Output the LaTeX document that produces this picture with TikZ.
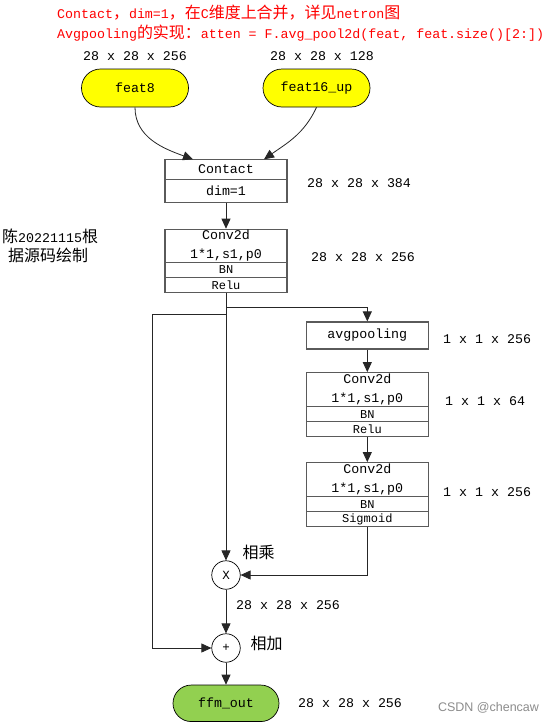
\documentclass[tikz,border=0pt]{standalone}
\usepackage{fontspec}
\setmonofont{Liberation Mono}
\newfontfamily\cjk[Scale=1.2]{Noto Sans CJK SC}
\newfontfamily\wmfont{Liberation Sans}
\usetikzlibrary{arrows.meta, shapes.misc}

\definecolor{boxgray}{RGB}{90,90,90}
\definecolor{featyellow}{RGB}{255,255,0}
\definecolor{outgreen}{RGB}{146,208,80}

\tikzset{
    txt/.style={font={\fontsize{13.3}{19}\selectfont\ttfamily}},
    layer/.style={txt, draw=boxgray, line width=1.2pt, minimum width=122pt, inner sep=0pt, align=center},
    thinrow/.style={layer, minimum height=15pt, font={\fontsize{12}{12}\selectfont\ttfamily}},
    term/.style={txt, rounded rectangle, draw=black, line width=0.7pt, inner sep=0pt},
    op/.style={circle, draw=black, line width=0.7pt, minimum size=28.5pt, inner sep=0pt, font={\fontsize{12.5}{12.5}\selectfont\ttfamily}},
    sizelbl/.style={txt, inner sep=0pt},
    note/.style={txt, inner sep=0pt, anchor=west},
    arr/.style={draw=black!85, line width=0.8pt, -{Triangle[length=10pt, width=9pt]}}
}

\begin{document}
\begin{tikzpicture}[x=1pt, y=-1pt]

    \fill[white] (0, 0) rectangle (552, 723);
    \useasboundingbox (0, 0) rectangle (552, 723);

    \node (title1) at (57, 13) [note, text=red] {Contact{\cjk ，}dim=1{\cjk ，在}C{\cjk 维度上合并，详见}netron{\cjk 图}};
    \node (title2) at (57, 33) [note, text=red] {Avgpooling{\cjk 的实现：}atten = F.avg\_pool2d(feat, feat.size()[2:])};

    \node (author1) at (2, 236) [note] {{\cjk 陈}20221115{\cjk 根}};
    \node (author2) at (8, 255) [note] {{\cjk 据源码绘制}};

    \node (feat8) at (135, 88) [term, fill=featyellow, minimum width=107pt, minimum height=38pt] {feat8};
    \node (feat16) at (316.5, 88) [term, fill=featyellow, minimum width=107pt, minimum height=38pt] {feat16\_up};
    \node (feat8-size) at (135, 56) [sizelbl] {28 x 28 x 256};
    \node (feat16-size) at (322, 56) [sizelbl] {28 x 28 x 128};

    \node (contact) at (226, 169.3) [layer, minimum height=20pt] {Contact};
    \node (dim1) at (226, 190.8) [layer, minimum height=23pt] {dim=1};
    \node (contact-size) at (307, 183) [note] {28 x 28 x 384};
    \coordinate (contact-in1) at (193, 159.3);
    \coordinate (contact-in2) at (264, 159.3);

    \node (conv1) at (226, 245.8) [layer, minimum height=33pt] {Conv2d\\1*1,s1,p0};
    \node (bn1) at (226, 270) [thinrow] {BN};
    \node (relu1) at (226, 285.2) [thinrow] {Relu};
    \node (conv1-size) at (311, 257) [note] {28 x 28 x 256};

    \node (avgpool) at (367.3, 335.5) [layer, minimum height=27pt] {avgpooling};
    \node (avgpool-size) at (443, 339) [note] {1 x 1 x 256};

    \node (conv2) at (367.3, 389.7) [layer, minimum height=34pt] {Conv2d\\1*1,s1,p0};
    \node (bn2) at (367.3, 414.2) [thinrow] {BN};
    \node (relu2) at (367.3, 429.2) [thinrow] {Relu};
    \node (conv2-size) at (445, 401) [note] {1 x 1 x 64};

    \node (conv3) at (367.3, 479.7) [layer, minimum height=34pt] {Conv2d\\1*1,s1,p0};
    \node (bn3) at (367.3, 504.2) [thinrow] {BN};
    \node (sig3) at (367.3, 519.2) [thinrow] {Sigmoid};
    \node (conv3-size) at (443, 492) [note] {1 x 1 x 256};

    \node (mul) at (226, 575) [op] {X};
    \node (mul-text) at (258.5, 552) [txt] {{\cjk 相乘}};
    \node (mul-size) at (236, 605) [note] {28 x 28 x 256};

    \node (add) at (226, 648) [op] {+};
    \node (add-text) at (266.5, 643) [txt] {{\cjk 相加}};

    \node (ffm) at (226, 703.3) [term, fill=outgreen, minimum width=106pt, minimum height=36.5pt] {ffm\_out};
    \node (ffm-size) at (298, 703) [note] {28 x 28 x 256};

    \node (mark) at (488.5, 708) [font={\fontsize{12.5}{12.5}\selectfont\wmfont}, text=black!45] {CSDN @chencaw};

    \draw[arr] (feat8.south) to[out=-90, in=160] (contact-in1);
    \draw[arr] (feat16.south) to[out=-115, in=35] (contact-in2);

    \draw[arr] (dim1.south) -- (conv1.north);

    \draw[arr] (relu1.south) -- ++(0, 14.3) -| (avgpool.north);
    \draw[arr] (avgpool.south) -- (conv2.north);
    \draw[arr] (relu2.south) -- (conv3.north);
    \draw[arr] (sig3.south) |- (mul.east);

    \draw[arr] (relu1.south) -- (mul.north);
    \coordinate (tap) at (226, 314);
    \coordinate (skip-left) at (152.3, 314);
    \draw[arr] (tap) -- (skip-left) |- (add.west);

    \draw[arr] (mul.south) -- (add.north);
    \draw[arr] (add.south) -- (ffm.north);

\end{tikzpicture}
\end{document}
